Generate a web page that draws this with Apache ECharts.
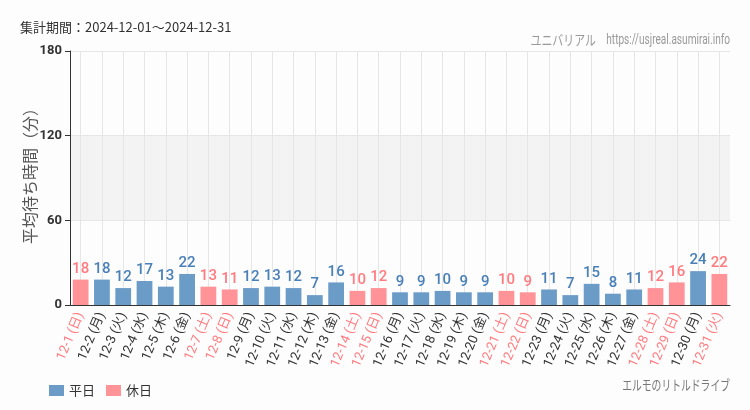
<!DOCTYPE html>
<html><head><meta charset="utf-8">
<script src="https://cdn.jsdelivr.net/npm/echarts@6/dist/echarts.min.js"></script>
<style>html,body{margin:0;padding:0;background:#fcfdfc;}#c{width:750px;height:410px;}</style>
</head><body><div id="c"></div>
<script>
const dates = ["12-1","12-2","12-3","12-4","12-5","12-6","12-7","12-8","12-9","12-10","12-11","12-12","12-13","12-14","12-15","12-16","12-17","12-18","12-19","12-20","12-21","12-22","12-23","12-24","12-25","12-26","12-27","12-28","12-29","12-30","12-31"];
const weekdays = ["日","月","火","水","木","金","土","日","月","火","水","木","金","土","日","月","火","水","木","金","土","日","月","火","水","木","金","土","日","月","火"];
const holiday = [1,0,0,0,0,0,1,1,0,0,0,0,0,1,1,0,0,0,0,0,1,1,0,0,0,0,0,1,1,0,1];
const waits = [18,18,12,17,13,22,13,11,12,13,12,7,16,10,12,9,9,10,9,9,10,9,11,7,15,8,11,12,16,24,22];
const yTicks = [0,60,120,180];

const cats = dates.map((d,i)=>d+" ("+weekdays[i]+")");
const wkData = waits.map((v,i)=>holiday[i]?'-':v);
const hoData = waits.map((v,i)=>holiday[i]?v:'-');
const BLUE='#6b9bc7', PINK='#ff9397', BLUE_T='#4a80b8', PINK_T='#ff7b80';
const chart = echarts.init(document.getElementById('c'), null, {renderer:'canvas'});
chart.setOption({
  backgroundColor:'#fcfdfc',
  animation:false,
  title:[
    {text:'集計期間：2024-12-01～2024-12-31', left:15, top:16, textStyle:{fontSize:13, fontWeight:'normal', color:'#333', fontFamily:'Noto Sans CJK JP'}}
  ],
  graphic:[
    {type:'text', x:596, y:40, scaleX:0.78, style:{text:'ユニバリアル', fill:'#999', font:'14px "Noto Sans CJK JP"', textAlign:'right', textVerticalAlign:'middle'}},
    {type:'text', x:730, y:40, scaleX:0.72, style:{text:'https://usjreal.asumirai.info', fill:'#999', font:'14px Roboto', textAlign:'right', textVerticalAlign:'middle'}},
    {type:'text', x:730, y:385, scaleX:0.7, style:{text:'エルモのリトルドライブ', fill:'#777', font:'14px "Noto Sans CJK JP"', textAlign:'right', textVerticalAlign:'middle'}}
  ],
  legend:{left:44, top:379, icon:'rect', itemWidth:15, itemHeight:11, itemGap:11, textStyle:{fontSize:13, color:'#333', fontFamily:'Noto Sans CJK JP'}, data:['平日','休日']},
  grid:{left:70, right:20, top:51, bottom:105, containLabel:false},
  xAxis:{type:'category', data:cats,
    axisLine:{lineStyle:{color:'#333'}},
    axisTick:{alignWithLabel:true, lineStyle:{color:'#333'}},
    splitLine:{show:true, alignWithLabel:true, lineStyle:{color:'#e6e6e6'}},
    axisLabel:{interval:0, rotate:67, fontSize:13, fontFamily:'Roboto, Noto Sans CJK JP', margin:8,
      color:(v,i)=>holiday[i]?PINK_T:'#333'}},
  yAxis:{type:'value', min:0, max:180, interval:60,
    name:'平均待ち時間（分）', nameLocation:'middle', nameGap:32, nameMoveOverlap:false, nameTextStyle:{fontSize:16, color:'#555', fontFamily:'Noto Sans CJK JP', padding:[0,0,0,12]},
    axisLine:{show:true, lineStyle:{color:'#333'}}, axisTick:{show:true, lineStyle:{color:'#333'}},
    axisLabel:{fontSize:13, color:'#333', fontWeight:'bold', fontFamily:'Roboto'},
    splitLine:{lineStyle:{color:'#e6e6e6'}},
    splitArea:{show:true, areaStyle:{color:['rgba(0,0,0,0)','#f3f3f3','rgba(0,0,0,0)']}}},
  series:[
    {name:'平日', type:'bar', stack:'a', data:wkData, barWidth:'74%', itemStyle:{color:BLUE},
     label:{show:true, position:'top', distance:3, color:BLUE_T, fontSize:15, fontWeight:500, fontFamily:'Roboto'}},
    {name:'休日', type:'bar', stack:'a', data:hoData, barWidth:'74%', itemStyle:{color:PINK},
     label:{show:true, position:'top', distance:3, color:PINK_T, fontSize:15, fontWeight:500, fontFamily:'Roboto'}}
  ]
});
</script></body></html>
